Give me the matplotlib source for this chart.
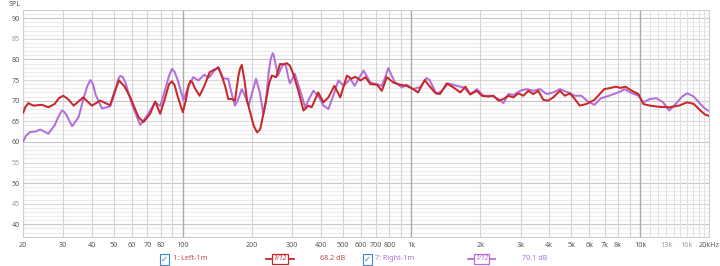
import matplotlib
matplotlib.use("Agg")
import matplotlib.pyplot as plt
from matplotlib.lines import Line2D

# ---------------- data ----------------
left_freq = [20, 20.5, 21.1, 22.2, 24.2, 25.8, 27.5, 28.7, 30.0, 31.6, 33.3, 36.7, 40.0, 43.5, 48.1,
             50.5, 52.6, 55.5, 58.9, 64, 67.3, 71.9, 75.7, 79.6, 84, 87, 89.6, 92, 95, 100, 103, 106,
             108, 110, 113, 118.4, 124, 131, 137, 143, 148, 153, 158, 164, 169, 175, 178, 181, 186,
             191, 197, 204, 211, 218, 229, 238, 245, 256, 266, 275, 285, 294, 304, 320, 337, 354, 366,
             391, 412, 433, 460, 488, 522, 546, 568, 598, 629, 661, 706, 742, 780, 833, 890, 952, 1018,
             1068, 1143, 1180, 1264, 1332, 1426, 1526, 1635, 1720, 1806, 1932, 2030, 2170, 2282, 2400,
             2524, 2653, 2790, 2933, 3085, 3243, 3410, 3585, 3770, 3963, 4167, 4458, 4686, 4926, 5178,
             5443, 5815, 6308, 6962, 7438, 7814, 8208, 8623, 9203, 9830, 10320, 11020, 12155, 13400,
             14780, 16050, 17160, 18340, 19270, 20000]
left_db = [67.0, 68.5, 69.4, 68.8, 69.0, 68.4, 69.2, 70.6, 71.2, 70.3, 68.8, 70.8, 68.8, 70.0, 68.9,
           72.5, 74.9, 73.5, 70.8, 66.0, 64.8, 66.8, 69.8, 66.8, 71.0, 74.0, 74.7, 73.8, 71.0, 67.2, 70.0, 73.8,
           74.8, 74.5, 73.0, 71.2, 73.5, 76.9, 77.5, 78.0, 76.0, 73.6, 70.4, 70.4, 70.0, 76.0, 77.8, 78.7, 75.0,
           70.0, 67.2, 64.0, 62.3, 63.1, 68.8, 74.0, 76.1, 75.7, 78.9, 78.8, 79.1, 78.5, 76.5, 72.4, 67.6, 68.8, 68.4,
           72.0, 69.6, 70.8, 73.6, 70.8, 76.1, 75.3, 75.8, 74.9, 75.7, 74.0, 73.9, 72.4, 75.7, 74.4, 73.9, 73.6, 72.8,
           72.0, 75.0, 74.0, 72.0, 71.6, 74.2, 73.2, 72.0, 73.4, 71.5, 72.4, 71.2, 71.0, 71.2, 70.0,
           70.4, 71.2, 70.8, 71.8, 71.2, 72.4, 71.6, 72.4, 70.2, 70.0, 70.8, 72.4, 71.2, 71.8, 70.4,
           68.8, 69.2, 70.2, 72.8, 73.1, 73.4, 73.1, 73.4, 72.4, 71.6, 69.2, 68.8, 68.5, 68.4,
           68.8, 69.6, 69.2, 67.6, 66.6, 66.3]

right_freq = [20, 20.6, 21.5, 22.6, 23.8, 25.8, 27.5, 28.5, 29.6, 30.3, 31, 32.8, 35, 37, 38.2, 39.4,
              40.5, 41.5, 44.3, 48.1, 50.5, 52, 53.2, 54.5, 56, 60, 65.1, 70, 75.7, 79.6, 84, 87, 89.6, 92,
              95, 100.6, 105, 111, 117, 124, 130, 136, 143, 150, 158, 163, 169, 175, 181, 186, 194, 201,
              209, 217, 225, 231, 237, 242, 247, 250, 254, 261, 267, 275, 282, 289, 294, 309, 326, 343,
              357, 372, 391, 412, 433, 455, 479, 505, 540, 564, 590, 617, 661, 706, 742, 765, 792, 820,
              848, 908, 952, 1018, 1068, 1089, 1162, 1200, 1286, 1357, 1450, 1580, 1692, 1806, 1932, 2063,
              2245, 2400, 2524, 2653, 2800, 2985, 3192, 3410, 3650, 3902, 4167, 4458, 4844, 5178, 5535,
              5908, 6308, 6744, 7322, 7814, 8200, 8540, 9060, 9830, 10320, 11020, 11780, 12590, 13400,
              14300, 15270, 16050, 17160, 18340, 19270, 20000]
right_db = [60.0, 61.5, 62.4, 62.5, 63.0, 62.0, 64.0, 66.0, 67.6, 67.3, 66.5, 63.8, 66.0, 71.0, 73.5, 75.0,
            74.0, 71.5, 68.1, 68.6, 72.0, 75.0, 76.0, 75.8, 74.5, 69.0, 64.1, 66.5, 69.6, 68.7, 73.0, 76.0, 77.7, 77.0,
            75.0, 70.1, 73.0, 75.7, 74.9, 76.3, 75.6, 77.0, 78.2, 75.4, 75.3, 72.0, 68.8, 70.5, 72.8, 71.5, 68.8, 72.0,
            75.3, 72.0, 66.8, 70.0, 76.5, 80.0, 81.5, 81.0, 79.0, 76.1, 77.5, 78.9, 78.6, 75.7, 74.2, 76.5, 72.4, 68.4,
            70.5, 72.4, 71.2, 68.8, 68.0, 71.2, 74.9, 73.6, 75.3, 73.6, 75.5, 77.3, 74.4, 74.0, 73.6, 75.5, 77.9, 76.0,
            74.4, 73.2, 73.9, 72.8, 73.2, 73.2, 75.5, 75.0, 71.6, 72.4, 74.2, 73.6, 73.2, 71.6, 72.8, 71.2,
            71.2, 70.4, 69.4, 71.6, 71.4, 72.4, 72.8, 72.4, 72.8, 71.6, 72.0, 72.8, 72.0, 71.2, 71.2,
            69.8, 69.0, 70.6, 71.2, 71.8, 72.2, 72.8, 72.0, 71.2, 69.6, 70.4, 70.6, 69.6, 67.6,
            69.2, 71.0, 71.8, 71.0, 69.2, 68.0, 67.5]

x_tick_values = [20, 30, 40, 50, 60, 70, 80, 100, 200, 300, 400, 500, 600, 700, 800,
                 1000, 2000, 3000, 4000, 5000, 6000, 7000, 8000, 10000, 13000, 16000, 20000]
x_tick_labels = ["20", "30", "40", "50", "60", "70", "80", "100", "200", "300", "400", "500",
                 "600", "700", "800", "1k", "2k", "3k", "4k", "5k", "6k", "7k", "8k", "10k",
                 "13k", "16k", "20kHz"]
y_tick_values = [40, 45, 50, 55, 60, 65, 70, 75, 80, 85, 90]

series_names = ["1: Left-1m", "7: Right-1m"]
series_avg = ["68.2 dB", "70.1 dB"]

# ---------------- style ----------------
RED = "#C8282A"
PURPLE = "#B46ED8"
RED_TXT = "#C84848"
PURPLE_TXT = "#B070D8"
BLUE = "#3A86D0"
FONT = "Noto Sans"

W, H = 720, 266
fig = plt.figure(figsize=(W / 100, H / 100), dpi=100)
x0, x1, y0, y1 = 23, 709, 10, 236.7
ax = fig.add_axes([x0 / W, 1 - y1 / H, (x1 - x0) / W, (y1 - y0) / H])
ax.set_xscale("log")
ax.set_xlim(20, 20000)
ax.set_ylim(37.0, 92.0)

# grid
for v in range(37, 93):
    if v % 10 == 0:
        c = "#C8C8C8"
    elif v % 5 == 0:
        c = "#D8D8D8"
    else:
        c = "#ECECEC"
    ax.axhline(v, color=c, lw=0.8, zorder=0)
for dec in [10, 100, 1000, 10000]:
    for m in range(1, 10):
        f = dec * m
        if f < 20 or f > 20000:
            continue
        c = "#AAAAAA" if m == 1 else "#D4D4D4"
        ax.axvline(f, color=c, lw=1.0 if m == 1 else 0.8, zorder=0)
for f in range(11000, 20000, 1000):
    ax.axvline(f, color="#E0E0E0", lw=0.7, zorder=0)

ax.plot(right_freq, right_db, color=PURPLE, lw=1.45, zorder=3,
        solid_joinstyle="round", solid_capstyle="round")
ax.plot(left_freq, left_db, color=RED, lw=1.45, zorder=4,
        solid_joinstyle="round", solid_capstyle="round")

ax.set_xticks(x_tick_values)
ax.set_xticklabels(x_tick_labels)
ax.xaxis.set_minor_locator(matplotlib.ticker.NullLocator())
ax.set_yticks(y_tick_values)
ax.tick_params(axis="both", length=0, labelsize=5.2, colors="#5A5A5A", pad=4)
for lab in ax.get_xticklabels() + ax.get_yticklabels():
    lab.set_family(FONT)
for lab in ax.get_xticklabels():
    if lab.get_text() in ("13k", "16k"):
        lab.set_color("#A0A0A0")
for lab in ax.get_yticklabels():
    if lab.get_text() in ("85", "55", "45"):
        lab.set_color("#9A9A9A")
ax.tick_params(axis="y", pad=2)
for s in ax.spines.values():
    s.set_color("#D0D0D0")
    s.set_linewidth(0.8)

fig.text(15 / W, 1 - 5 / H, "SPL", fontsize=5.2, color="#505050", family=FONT,
         ha="center", va="center")

# ---------------- legend ----------------
ly = 1 - 259 / H


def checkbox(xc):
    fig.text(xc / W, ly, "\u2713", fontsize=6, color=BLUE, family="DejaVu Sans",
             ha="center", va="center",
             bbox=dict(boxstyle="square,pad=0.12", fc="white", ec=BLUE, lw=0.8))


def symbol(xa, xb, col):
    fig.add_artist(Line2D([xa / W, xb / W], [ly, ly], color=col, lw=1.3,
                          transform=fig.transFigure))
    fig.text((xa + xb) / 2 / W, ly, "1/12", fontsize=4.8, color=col, family=FONT,
             style="italic", ha="center", va="center",
             bbox=dict(boxstyle="square,pad=0.2", fc="white", ec=col, lw=0.9))


checkbox(164.7)
fig.text(173 / W, ly, series_names[0], fontsize=5.2, color=RED_TXT, family=FONT,
         ha="left", va="center")
symbol(266, 294, RED)
fig.text(320 / W, ly, series_avg[0], fontsize=5.2, color=RED_TXT, family=FONT,
         ha="left", va="center")
checkbox(367)
fig.text(375 / W, ly, series_names[1], fontsize=5.2, color=PURPLE_TXT, family=FONT,
         ha="left", va="center")
symbol(468, 495, PURPLE)
fig.text(521.5 / W, ly, series_avg[1], fontsize=5.2, color=PURPLE_TXT, family=FONT,
         ha="left", va="center")

fig.savefig("out.png", dpi=100, facecolor="white")
